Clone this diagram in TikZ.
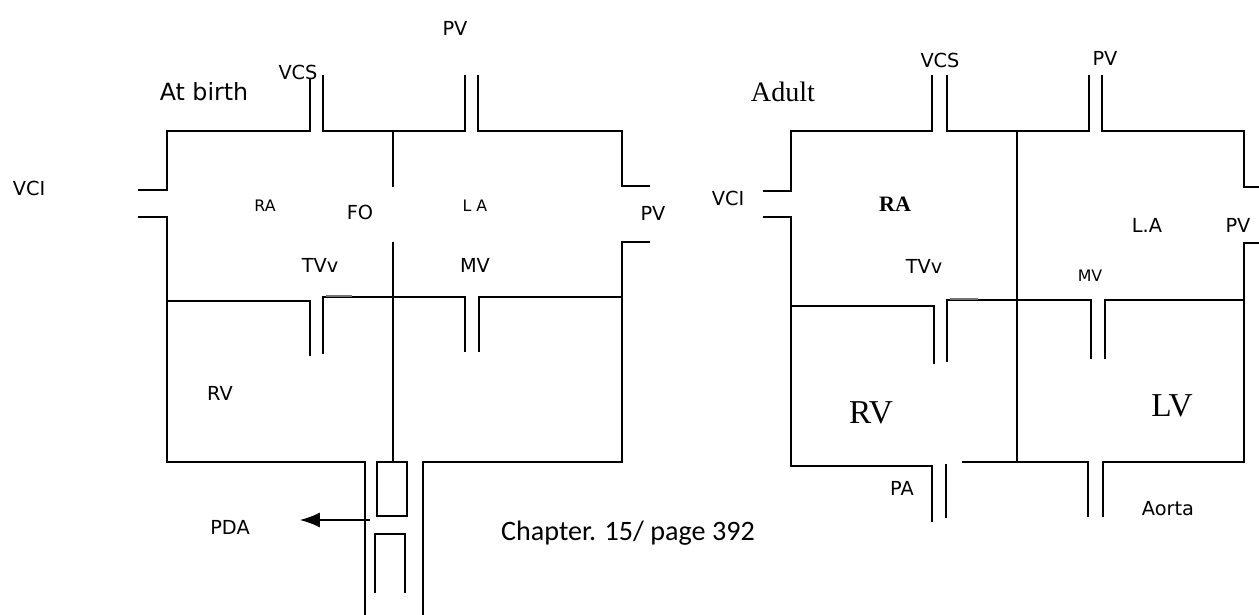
\documentclass[tikz,border=0pt]{standalone}
\usepackage{fontspec}
\newfontfamily\labelfont{DejaVu Sans}
\newfontfamily\seriffont{Liberation Serif}
\newfontfamily\notefont{Carlito}
\usetikzlibrary{arrows.meta}

\tikzset{
  wall/.style={line width=0.75pt,black},
  flap/.style={line width=1.4pt,black!55},
  lbl/.style={font=\labelfont\fontsize{11}{13}\selectfont,inner sep=0pt},
  smalllbl/.style={font=\labelfont\fontsize{9}{11}\selectfont,inner sep=0pt},
  chamber/.style={font=\seriffont\fontsize{19}{22}\selectfont,inner sep=0pt},
}

\begin{document}
\begin{tikzpicture}[>=Latex,x=0.02cm,y=-0.02cm]
    \useasboundingbox (0,0) rectangle (1259,615);
    % at birth
    \draw[wall] (310,78) -- (310,131) -- (167,131) -- (167,190) -- (138,190);
    \draw[wall] (138,217) -- (167,217) -- (167,462) -- (365,462) -- (365,615);
    \draw[wall] (323,75) -- (323,131) -- (465,131) -- (465,75);
    \draw[wall] (478,75) -- (478,131) -- (622,131) -- (622,186) -- (650,186);
    \draw[wall] (650,242) -- (622,242) -- (622,462) -- (423,462) -- (423,615);
    \draw[wall] (393,131) -- (393,187);
    \draw[wall] (393,242) -- (393,462);
    \draw[wall] (167,301) -- (310,301) -- (310,356);
    \draw[wall] (323,354) -- (323,297) -- (465,297) -- (465,352);
    \draw[wall] (479,352) -- (479,297) -- (622,297);
    \draw[flap] (326,296) -- (352,296);
    \draw[wall] (377,462) rectangle (407,516);
    \draw[wall] (375,593) -- (375,534) -- (405,534) -- (405,593);
    \node[lbl,font=\labelfont\fontsize{13.5}{15}\selectfont] (birth) at (204,92) {At birth};
    \node[lbl] (vcsL) at (298,72) {VCS};
    \node[lbl] (pvTopL) at (455,28) {PV};
    \node[lbl] (vciL) at (29,188) {VCI};
    \node[smalllbl] (raL) at (265,206) {RA};
    \node[lbl] (fo) at (360,212) {FO};
    \node[smalllbl] (laL) at (475,206) {L A};
    \node[lbl] (pvSideL) at (653,213) {PV};
    \node[lbl] (tvL) at (320,265) {TVv};
    \node[lbl] (mvL) at (475,265) {MV};
    \node[lbl] (rvL) at (220,393) {RV};
    \node[lbl] (pda) at (230,527) {PDA};
    \coordinate (ductus) at (370,520);
    \coordinate (pdatip) at (300,520);
    \draw[wall,-{Latex[length=4mm,width=3mm]}] (ductus) -- (pdatip);
    \node[font=\notefont\fontsize{16}{18}\selectfont,inner sep=0pt] (chapter) at (628,533) {Chapter. 15/ page 392};

    % adult
    \draw[wall] (932,75) -- (932,131) -- (791,131) -- (791,191) -- (763,191);
    \draw[wall] (763,217) -- (791,217) -- (791,466) -- (932,466) -- (932,522);
    \draw[wall] (947,75) -- (947,131) -- (1089,131) -- (1089,75);
    \draw[wall] (1102,75) -- (1102,131) -- (1244,131) -- (1244,187) -- (1259,187);
    \draw[wall] (1259,243) -- (1244,243) -- (1244,462) -- (1103,462) -- (1103,517);
    \draw[wall] (946,518) -- (946,464);
    \draw[wall] (962,462) -- (1088,462) -- (1088,517);
    \draw[wall] (1017,131) -- (1017,462);
    \draw[wall] (791,306) -- (934,306) -- (934,364);
    \draw[wall] (947,362) -- (947,300) -- (1091,300) -- (1091,359);
    \draw[wall] (1105,359) -- (1105,300) -- (1244,300);
    \draw[flap] (950,299) -- (978,299);
    \node[font=\seriffont\fontsize{16}{18}\selectfont,inner sep=0pt] (adult) at (783,92) {Adult};
    \node[lbl] (vcsR) at (940,60) {VCS};
    \node[lbl] (pvTopR) at (1105,58) {PV};
    \node[lbl] (vciR) at (728,198) {VCI};
    \node[font=\seriffont\bfseries\fontsize{12.5}{14}\selectfont,inner sep=0pt] (raR) at (895,204) {RA};
    \node[lbl] (laR) at (1147,225) {L.A};
    \node[lbl] (pvSideR) at (1238,225) {PV};
    \node[lbl] (tvR) at (924,266) {TVv};
    \node[smalllbl] (mvR) at (1090,276) {MV};
    \node[chamber] (rvR) at (871,413) {RV};
    \node[chamber] (lvR) at (1172,406) {LV};
    \node[lbl] (pa) at (902,488) {PA};
    \node[lbl] (aorta) at (1168,509) {Aorta};
\end{tikzpicture}
\end{document}
